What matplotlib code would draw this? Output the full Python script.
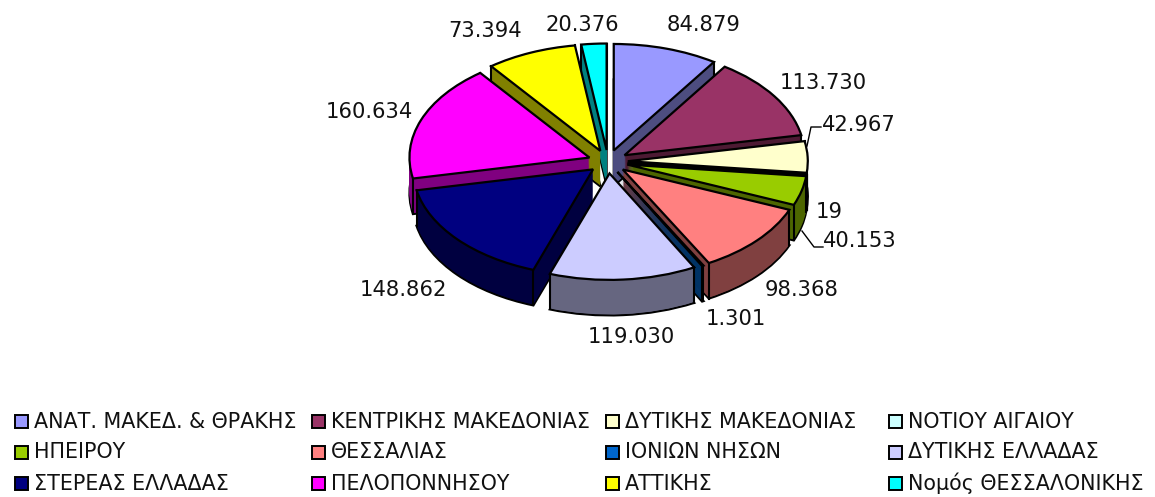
import math
import matplotlib
matplotlib.use("Agg")
import matplotlib.pyplot as plt
from matplotlib.colors import to_rgb
from matplotlib.patches import Rectangle

categories = ["ΑΝΑΤ. ΜΑΚΕΔ. & ΘΡΑΚΗΣ", "ΚΕΝΤΡΙΚΗΣ ΜΑΚΕΔΟΝΙΑΣ", "ΔΥΤΙΚΗΣ ΜΑΚΕΔΟΝΙΑΣ", "ΝΟΤΙΟΥ ΑΙΓΑΙΟΥ",
              "ΗΠΕΙΡΟΥ", "ΘΕΣΣΑΛΙΑΣ", "ΙΟΝΙΩΝ ΝΗΣΩΝ", "ΔΥΤΙΚΗΣ ΕΛΛΑΔΑΣ",
              "ΣΤΕΡΕΑΣ ΕΛΛΑΔΑΣ", "ΠΕΛΟΠΟΝΝΗΣΟΥ", "ΑΤΤΙΚΗΣ", "Νομός ΘΕΣΣΑΛΟΝΙΚΗΣ"]
values = [84879, 113730, 42967, 19, 40153, 98368, 1301, 119030, 148862, 160634, 73394, 20376]
colors = ["#9999FF", "#993366", "#FFFFCC", "#CCFFFF", "#99CC00", "#FF8080",
          "#0066CC", "#CCCCFF", "#000080", "#FF00FF", "#FFFF00", "#00FFFF"]

label_xy = [(704, 25), (823, 83), (859, 125), (829, 212), (860, 241), (802, 290),
            (736, 319), (631, 337), (403, 290), (369, 112), (485, 31), (582, 25)]
legend_x = [15, 312, 606, 889]
legend_y = [421, 452, 483]

W, H = 1155, 497
CX, CY, RX, RY, DEPTH = 608, 161.7, 180, 106.5, 35.5
EXPLODE = 0.11
FONT = "DejaVu Sans"

fig = plt.figure(figsize=(W / 100, H / 100), dpi=100, facecolor="white")
ax = fig.add_axes([0, 0, 1, 1])


def shade(c):
    return tuple(v * 0.5 for v in to_rgb(c))


explode = [EXPLODE] * len(values)
steps = 38
n = len(values)
top_wedges, _ = ax.pie(values, colors=colors, explode=explode, startangle=90, counterclock=False,
                       wedgeprops=dict(edgecolor="black", linewidth=1.6))
mid_y = [math.sin(math.radians((w.theta1 + w.theta2) / 2)) for w in top_wedges]
order = sorted(range(n), key=lambda i: -mid_y[i])
rank = {i: r for r, i in enumerate(order)}
for k in range(steps + 1):
    off = DEPTH / RY * k / steps
    ws, _ = ax.pie(values, colors=[shade(c) for c in colors], explode=explode, startangle=90,
                   counterclock=False, center=(0, -off),
                   wedgeprops=dict(edgecolor="black" if k == steps else "none",
                                   linewidth=1.6 if k == steps else 0))
    for i, w in enumerate(ws):
        w.set_zorder(2 + rank[i] + (1 - k / steps) * 0.9)
for i, w in enumerate(top_wedges):
    w.set_zorder(2 + rank[i] + 0.95)
    cx, cy = w.center
    for ang in (w.theta1, w.theta2):
        x = cx + math.cos(math.radians(ang))
        y = cy + math.sin(math.radians(ang))
        ax.plot([x, x], [y, y - DEPTH / RY], color="black", lw=1.5, zorder=2 + rank[i] + 0.93)

ax.set_aspect("auto")
ax.set_xlim(-CX / RX, (W - CX) / RX)
ax.set_ylim((CY - H) / RY, CY / RY)
ax.axis("off")

ov = fig.add_axes([0, 0, 1, 1], facecolor="none")
ov.set_xlim(0, W)
ov.set_ylim(H, 0)
ov.axis("off")


def fmt(v):
    return f"{v:,}".replace(",", ".")


for v, (x, y) in zip(values, label_xy):
    ov.text(x, y, fmt(v), ha="center", va="center", fontsize=15.2, family=FONT, color="#111111")

ov.plot([807, 811, 821], [146, 127, 127], color="black", lw=1)
ov.plot([802, 814, 823], [231, 247, 247], color="black", lw=1)

for i, (name, col) in enumerate(zip(categories, colors)):
    x = legend_x[i % 4]
    y = legend_y[i // 4]
    ov.add_patch(Rectangle((x, y - 6), 13, 13, facecolor=col, edgecolor="black", lw=1.4))
    ov.text(x + 19, y + 0.5, name, ha="left", va="center", fontsize=14.9, family=FONT, color="#111111")

fig.savefig("out.png", dpi=100)
